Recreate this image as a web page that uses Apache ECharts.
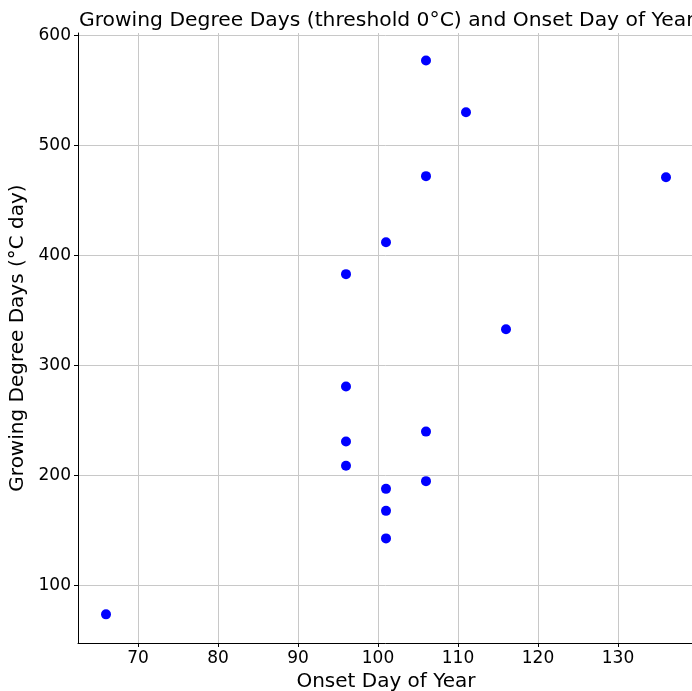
<!DOCTYPE html>
<html><head><meta charset="utf-8">
<script src="https://cdn.jsdelivr.net/npm/echarts@6/dist/echarts.min.js"></script>
<style>html,body{margin:0;padding:0;background:#fff;overflow:hidden}#c{width:692px;height:691px}</style>
</head><body><div id="c"></div>
<script>
const onsetDay = [66, 96, 96, 96, 96, 101, 101, 101, 101, 106, 106, 106, 106, 111, 116, 136];
const gdd = [74, 383, 281, 231, 209, 412, 188, 168, 143, 577, 472, 240, 195, 530, 333, 471];
const xTicks = [70, 80, 90, 100, 110, 120, 130];
const yTicks = [100, 200, 300, 400, 500, 600];

const font = 'DejaVu Sans';
const chart = echarts.init(document.getElementById('c'), null, {renderer: 'canvas'});
chart.setOption({
  animation: false,
  backgroundColor: '#fff',
  title: {
    text: 'Growing Degree Days (threshold 0°C) and Onset Day of Year',
    left: 74, top: 6,
    textStyle: {fontFamily: font, fontSize: 20.3, fontWeight: 'normal', color: '#000'}
  },
  grid: {left: 78, right: -2, top: 33, bottom: 48, containLabel: false, outerBoundsMode: 'none'},
  xAxis: {
    type: 'value', min: 62.5, max: 139.5,
    name: 'Onset Day of Year', nameLocation: 'middle', nameGap: 28,
    nameTextStyle: {fontFamily: font, fontSize: 20, color: '#000'},
    axisLine: {onZero: false, lineStyle: {color: '#000', width: 1}},
    axisTick: {show: true, inside: false, length: 4, customValues: xTicks, lineStyle: {color: '#000'}},
    axisLabel: {customValues: xTicks, fontFamily: font, fontSize: 17, color: '#000', margin: 7},
    splitLine: {show: true, lineStyle: {color: '#c8c8c8', width: 1}}
  },
  yAxis: {
    type: 'value', min: 48, max: 602,
    name: 'Growing Degree Days (°C day)', nameLocation: 'middle', nameGap: 44, nameRotate: 90,
    nameTextStyle: {fontFamily: font, fontSize: 20, color: '#000'},
    axisLine: {show: true, onZero: false, lineStyle: {color: '#000', width: 1}},
    axisTick: {show: true, inside: false, length: 4, customValues: yTicks, lineStyle: {color: '#000'}},
    axisLabel: {customValues: yTicks, fontFamily: font, fontSize: 17, color: '#000', margin: 7},
    splitLine: {show: true, lineStyle: {color: '#c8c8c8', width: 1}}
  },
  series: [{
    type: 'scatter',
    symbolSize: 10,
    itemStyle: {color: '#0000ff', opacity: 1},
    data: onsetDay.map((d, i) => [d, gdd[i]])
  }]
});
</script></body></html>
